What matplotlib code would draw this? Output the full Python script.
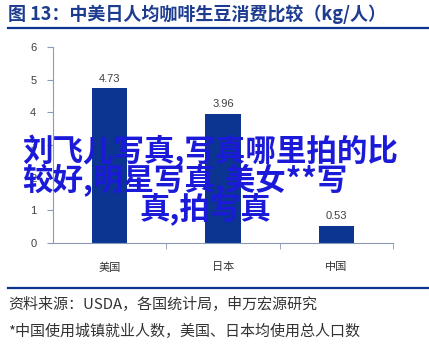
import matplotlib.pyplot as plt

plt.rcParams['font.family'] = ['Liberation Sans', 'Noto Sans CJK SC', 'DejaVu Sans']

# data
countries = ['美国', '日本', '中国']
consumption = [4.73, 3.96, 0.53]
yticks = [0, 1, 2, 3, 4, 5, 6]

title = '图 13：中美日人均咖啡生豆消费比较（kg/人）'
source_lines = ['资料来源：USDA，各国统计局，申万宏源研究',
                '*中国使用城镇就业人数，美国、日本均使用总人口数']
overlay_lines = ['刘飞儿写真,写真哪里拍的比', '较好,明星写真,美女**写', '真,拍写真']

W, H = 429, 344
cjk = ['Noto Sans CJK SC', 'DejaVu Sans']
fig = plt.figure(figsize=(W / 100, H / 100), dpi=100)

# plot area in pixels: x 53..393, y 47..243
ax = fig.add_axes([53 / W, 1 - 243 / H, (393 - 53) / W, (243 - 47) / H])
x = range(len(countries))
ax.bar(x, consumption, width=0.31, color='#0b3590', zorder=2)
for i, v in zip(x, consumption):
    ax.text(i, v + 0.15, f'{v:.2f}', ha='center', va='bottom', fontsize=8, color='#404040')

ax.set_xlim(-0.5, 2.5)
ax.set_ylim(0, 6)
ax.set_yticks(yticks)
ax.set_xticks(list(x))
ax.set_xticklabels(countries, fontsize=8, color='#333333')
ax.set_xticks([0.5, 1.5, 2.5], minor=True)
ax.tick_params(axis='x', which='major', length=0, pad=14)
ax.tick_params(axis='x', which='minor', length=4, color='#8a9ab8')
ax.tick_params(axis='y', length=4, color='#8a9ab8', labelsize=8, labelcolor='#404040', pad=8)
for s in ['top', 'right']:
    ax.spines[s].set_visible(False)
for s in ['left', 'bottom']:
    ax.spines[s].set_color('#8a9ab8')
    ax.spines[s].set_linewidth(0.8)

# title band
fig.text(8 / W, 1 - 14 / H, title, fontsize=13, fontweight='bold', color='#1d3c8f',
         va='center', ha='left', family=cjk)
fig.add_artist(plt.Line2D([8 / W, 1], [1 - 28 / H, 1 - 28 / H], color='#0b3590', lw=1.6))

# footer
fig.add_artist(plt.Line2D([8 / W, 1], [1 - 288 / H, 1 - 288 / H], color='#0b3590', lw=1.6))
fig.text(8 / W, 1 - 305 / H, source_lines[0], fontsize=10.8, color='#333333', va='center', family=cjk)
fig.text(8 / W, 1 - 331 / H, source_lines[1], fontsize=10.8, color='#333333', va='center', family=cjk)

# overlay text
for (px, py), line in zip([(22, 151), (22, 181), (140, 210)], overlay_lines):
    fig.text(px / W, 1 - py / H, line, fontsize=22, fontweight='bold', color='#1a1ad8',
             va='center', ha='left', family=cjk, zorder=5)

fig.savefig('out.png', dpi=100)
